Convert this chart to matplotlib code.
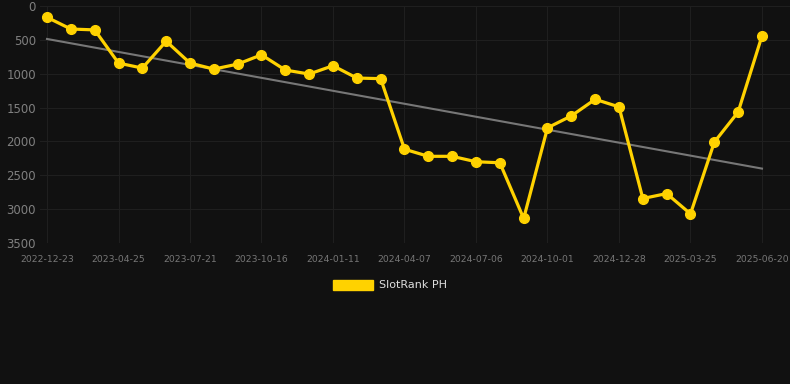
import numpy as np
import matplotlib
matplotlib.use("Agg")
import matplotlib.pyplot as plt
from matplotlib.patches import Patch

# rank values, one per snapshot (lower is better, axis inverted)
ranks = [167, 340, 353, 843, 917, 520, 843, 932, 858, 721, 946, 1005, 882, 1064, 1073,
         2115, 2220, 2220, 2300, 2315, 3138, 1799, 1623, 1378, 1490, 2843, 2770, 3070,
         2010, 1565, 441]
tick_labels = ['2022-12-23', '2023-04-25', '2023-07-21', '2023-10-16', '2024-01-11',
               '2024-04-07', '2024-07-06', '2024-10-01', '2024-12-28', '2025-03-25',
               '2025-06-20']
series_name = 'SlotRank PH'

bg = '#111111'
gold = '#FFD200'
txt = '#808080'

x = np.arange(len(ranks))
slope, icpt = np.polyfit(x, ranks, 1)

fig = plt.figure(figsize=(7.9, 3.84), dpi=100, facecolor=bg)
ax = fig.add_axes([40/790, 1-243/384, 750/790, 237/384], facecolor=bg)

ax.plot(x, slope*x + icpt, color='#777777', lw=1.5, zorder=2)
ax.plot(x, ranks, color=gold, lw=2.3, marker='o', ms=7, zorder=3)

ax.set_ylim(3500, 0)
ax.set_yticks(np.arange(0, 3501, 500))
ax.set_xlim(-7/23.83, 30 + 28/23.83)
ax.set_xticks(x[::3])
ax.set_xticklabels(tick_labels)

ax.grid(True, color='#1f1f1f', lw=0.8)
ax.set_axisbelow(True)
for s in ax.spines.values():
    s.set_visible(False)
ax.tick_params(axis='y', colors=txt, labelsize=8.5, length=0, pad=3)
ax.tick_params(axis='x', colors='#777777', labelsize=6.7, length=0, pad=9)

fig.legend(handles=[Patch(facecolor=gold, edgecolor=gold)], labels=[series_name],
           loc='center', bbox_to_anchor=(390/790, 1-285/384), frameon=False,
           labelcolor='#dddddd', fontsize=8, handlelength=3.6, handleheight=1.0,
           handletextpad=0.5)

fig.savefig('out.png', dpi=100, facecolor=bg)
